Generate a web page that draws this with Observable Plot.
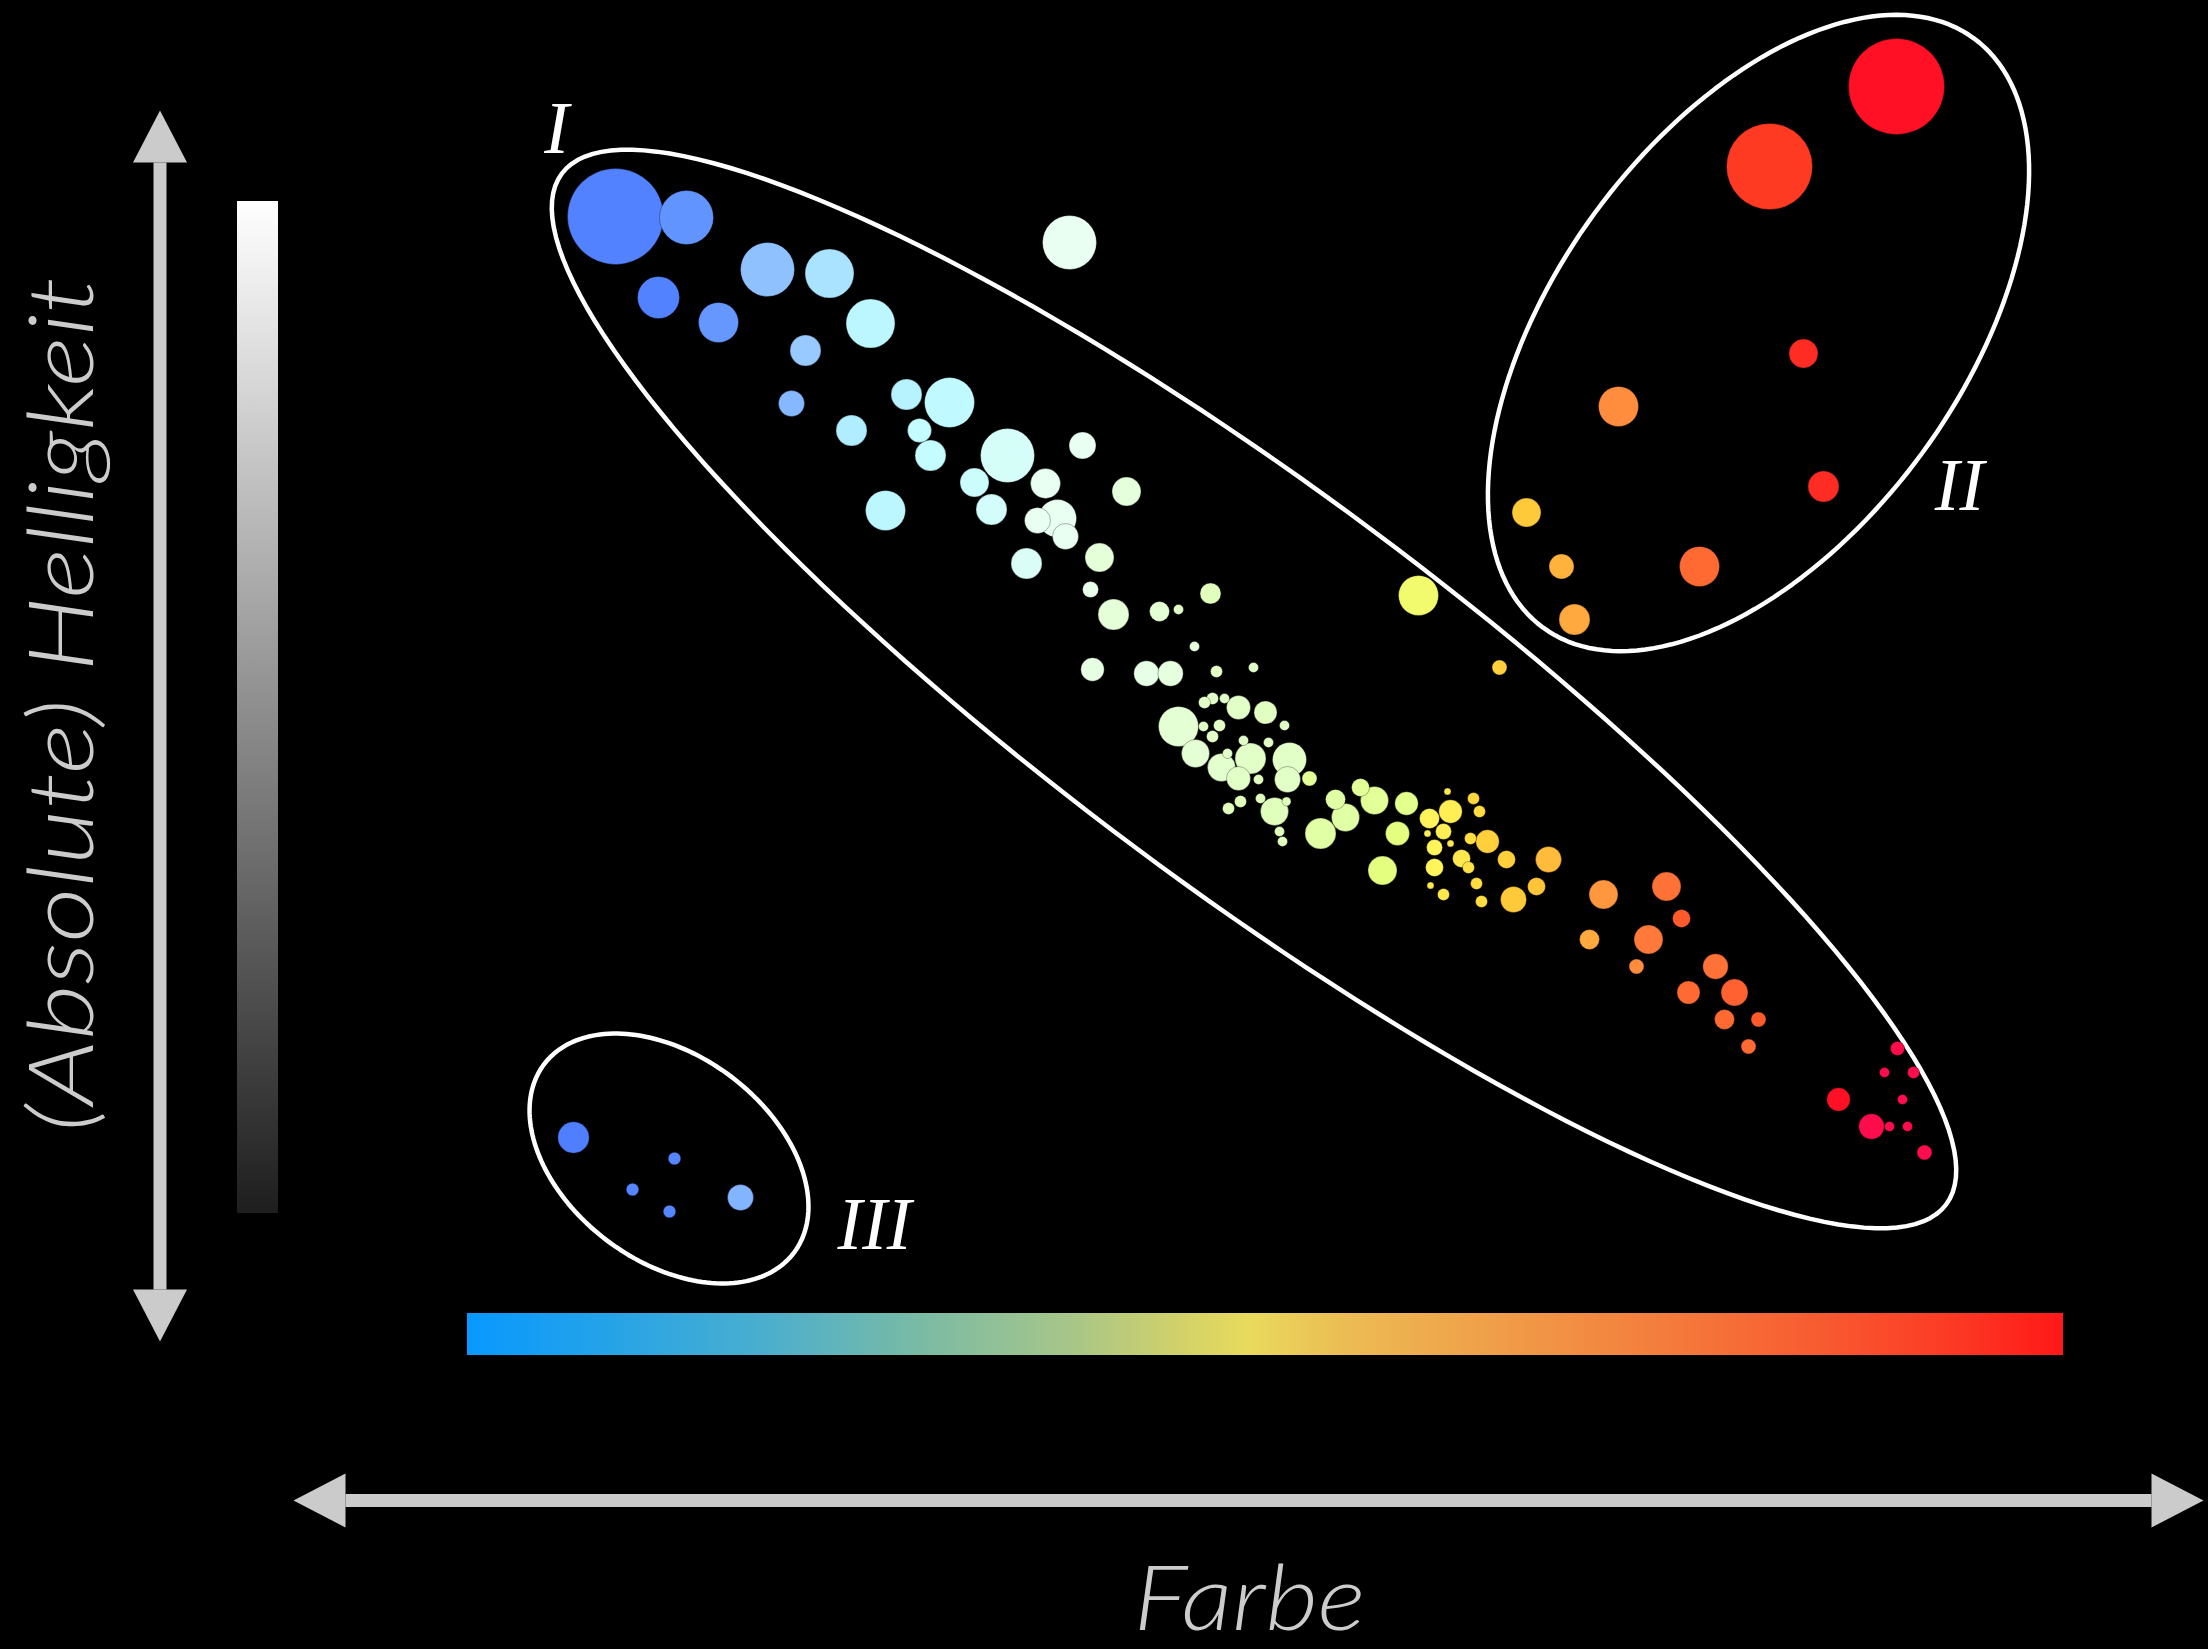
<!DOCTYPE html>
<html>
<head>
<meta charset="utf-8">
<script src="https://cdn.jsdelivr.net/npm/d3@7"></script>
<script src="https://cdn.jsdelivr.net/npm/@observablehq/plot@0.6"></script>
<style>
  html, body { margin: 0; padding: 0; background: #000; }
  #chart { width: 2208px; height: 1649px; }
</style>
</head>
<body>
<div id="chart"></div>
<script>
// ---------- Daten ----------
// Werte: [Farbe (Index), Helligkeit (Index), Sternradius, Temperaturindex]
const hauptreihe = [
  [14.8, 99.7, 48, 2], [21.9, 99.6, 27, 7], [19.1, 91.6, 21, 2], [25.1, 89.1, 20, 8],
  [30.0, 94.4, 27, 18], [36.2, 94.0, 24.5, 27], [40.3, 89.0, 24.5, 36], [33.8, 86.3, 15.5, 20],
  [32.4, 81.0, 13, 16], [38.4, 78.3, 15.5, 30], [43.9, 81.9, 15.5, 33], [48.2, 81.1, 25, 38],
  [45.2, 78.3, 12, 40], [46.3, 75.8, 15.5, 40], [54.0, 75.8, 27, 45], [50.7, 73.1, 14.5, 42],
  [52.4, 70.4, 15.5, 44], [57.8, 73.0, 15, 50], [61.5, 76.8, 13.5, 50], [65.9, 72.2, 14.5, 56],
  [60.2, 97.1, 27, 50], [57.0, 69.3, 13, 50], [59.0, 69.5, 19, 50], [59.8, 67.7, 13, 50],
  [41.8, 70.3, 20, 36], [55.9, 65.0, 15.5, 46], [63.2, 65.6, 14.5, 57], [62.3, 62.4, 8, 52],
  [64.6, 59.9, 15.5, 57], [69.2, 60.2, 10, 58], [71.1, 60.4, 5, 60], [74.3, 62.0, 10.5, 62],
  [95.1, 61.8, 20, 70], [72.7, 56.7, 5, 55], [62.5, 54.4, 11.7, 54], [67.9, 54.0, 12.7, 53],
  [70.3, 54.0, 12.7, 55], [74.9, 54.2, 6, 60], [78.6, 54.6, 5, 60], [74.5, 51.5, 6, 60],
  [73.7, 51.1, 6, 60], [75.7, 51.5, 5, 60], [77.1, 50.6, 12, 60], [79.8, 50.1, 11.5, 61],
  [71.1, 48.7, 20, 58], [73.6, 48.7, 5, 60], [75.2, 48.8, 6, 60], [74.5, 47.7, 6, 60],
  [77.6, 47.3, 5, 60], [80.1, 47.1, 5, 60], [81.7, 48.8, 5, 60], [72.8, 46.0, 14, 58],
  [78.3, 45.5, 15.5, 60], [82.2, 45.4, 17, 60], [75.4, 44.6, 14, 59], [77.1, 43.5, 12, 60],
  [76.0, 46.0, 5, 60], [79.1, 43.4, 5, 61], [82.0, 43.4, 13, 60], [84.2, 43.5, 7.5, 66],
  [77.3, 41.2, 6, 62], [76.1, 40.5, 6, 62], [79.3, 41.5, 5, 62], [80.7, 40.2, 14, 62],
  [81.9, 41.2, 4.5, 62], [81.2, 38.2, 5, 62], [81.5, 37.2, 5, 62], [89.3, 42.6, 9, 66],
  [86.8, 41.4, 10, 65], [90.7, 41.3, 14, 66], [87.8, 39.6, 14, 65], [93.9, 41.0, 11.7, 67],
  [85.3, 38.0, 15.5, 65], [93.0, 38.0, 12, 68], [91.5, 34.3, 14.5, 68], [96.2, 39.5, 10, 72],
  [98.3, 40.2, 11.7, 73], [98.0, 42.2, 3.5, 74], [97.6, 38.2, 8, 73], [96.0, 38.0, 3.5, 73],
  [96.7, 36.6, 8, 72], [98.3, 37.0, 3.5, 74], [96.7, 34.6, 9, 72], [96.3, 32.8, 3.5, 74],
  [97.6, 31.9, 6, 74], [99.4, 35.5, 9, 74], [100.1, 34.6, 6, 75], [100.6, 41.5, 6, 77],
  [101.2, 40.2, 6, 76], [100.3, 37.5, 6, 76], [102.0, 37.2, 11.7, 78], [100.9, 33.0, 6, 76],
  [101.4, 31.2, 6, 76], [103.9, 35.4, 9, 78], [104.6, 31.4, 13, 79], [106.9, 32.7, 9, 80],
  [108.1, 35.4, 13, 81], [103.2, 54.6, 7.5, 78], [113.6, 31.9, 14.5, 85], [119.9, 32.7, 14.5, 89],
  [121.4, 29.5, 9, 92], [112.2, 27.4, 10, 83], [118.1, 27.4, 14.5, 88], [116.9, 24.7, 7.5, 86],
  [124.8, 24.7, 12.7, 89], [122.1, 22.1, 11.5, 90], [126.7, 22.1, 13.5, 91], [125.7, 19.4, 10, 90],
  [129.1, 19.4, 7.5, 92], [128.1, 16.7, 7.5, 90], [143.0, 16.5, 7, 100], [141.7, 14.1, 5, 100],
  [144.6, 14.1, 6, 100], [137.1, 11.4, 11.7, 98], [143.5, 11.4, 5, 100], [140.4, 8.7, 12.7, 100],
  [142.2, 8.7, 5, 100], [144.0, 8.7, 5, 100], [145.7, 6.1, 7.5, 100]
];
const riesen = [
  [142.9, 112.7, 48, 98], [130.2, 104.7, 43, 95], [133.6, 86.0, 14.5, 96],
  [115.1, 80.7, 20, 86], [135.6, 72.7, 15.5, 96], [105.9, 70.1, 14.5, 79],
  [109.4, 64.7, 12.5, 82], [123.2, 64.7, 20, 90], [110.7, 59.4, 15.5, 83]
];
const weisseZwerge = [
  [10.6, 7.6, 15.7, 1], [20.7, 5.5, 6.3, 3], [16.5, 2.4, 6.3, 3],
  [20.2, 0.2, 6.3, 3], [27.3, 1.6, 13, 15]
];

// Gruppen (Ellipsen) : Mittelpunkt, Halbachsen, Drehwinkel (Grad)
const gruppenNamen = ["I", "II", "III"];
const gruppenMitteFarbe = [78.65, 129.1, 20.15];
const gruppenMitteHelligkeit = [52.45, 88.05, 5.5];
const gruppenHalbachseA = [86.3, 36.5, 15.65];
const gruppenHalbachseB = [19.8, 20.3, 10.28];
const gruppenWinkel = [-36.67, 53.85, -37.0];
const labelFarbe = [8.9, 149.2, 40.7];
const labelHelligkeit = [106.1, 70.4, -3.5];

// Skalen
const farbeDomain = [0, 159.6];
const helligkeitDomain = [0, 101.2];
const tempStops = [0, 10, 20, 30, 40, 50, 58, 64, 68, 72, 76, 80, 84, 88, 92, 95, 98, 100];
const tempFarben = ["#4c7bff", "#6c9eff", "#98caff", "#b0eeff", "#c4fcff", "#e8fff2", "#e4ffd4",
  "#e0ffb0", "#e4ff80", "#fff45a", "#ffdc40", "#ffc438", "#ffa040", "#ff7a3a", "#ff5a2c",
  "#ff3a22", "#ff1024", "#ff0c4c"];
const farbverlaufStops = [0, 0.08, 0.18, 0.28, 0.38, 0.45, 0.49, 0.55, 0.65, 0.75, 0.85, 0.93, 1];
const farbverlaufFarben = ["#0898ff", "#22a2ea", "#48aed0", "#78baa6", "#a8c688", "#d4d268",
  "#e8da5c", "#ecbc54", "#f09c48", "#f47c3c", "#f85a30", "#fc3a24", "#ff1818"];

const xTitel = "Farbe";
const yTitel = "(Absolute) Helligkeit";

// ---------- Tabellen ----------
const toRows = (arr, gruppe) => arr.map(([farbe, helligkeit, radius, temperatur]) =>
  ({farbe, helligkeit, radius, temperatur, gruppe}));
const sterne = [...toRows(hauptreihe, "I"), ...toRows(riesen, "II"), ...toRows(weisseZwerge, "III")];

const ellipsenPunkte = gruppenNamen.flatMap((g, i) => d3.range(0, 361, 2).map(deg => {
  const t = deg * Math.PI / 180, w = gruppenWinkel[i] * Math.PI / 180;
  const u = gruppenHalbachseA[i] * Math.cos(t), v = gruppenHalbachseB[i] * Math.sin(t);
  return {gruppe: g,
    farbe: gruppenMitteFarbe[i] + u * Math.cos(w) - v * Math.sin(w),
    helligkeit: gruppenMitteHelligkeit[i] + u * Math.sin(w) + v * Math.cos(w)};
}));
const labels = gruppenNamen.map((g, i) => ({g, farbe: labelFarbe[i], helligkeit: labelHelligkeit[i]}));

// Pfeilspitzen als eigene Symbole
const L = 52, H = 27;
const spitzeOben = {draw(c) { c.moveTo(0, -L); c.lineTo(H, 0); c.lineTo(-H, 0); c.closePath(); }};
const spitzeUnten = {draw(c) { c.moveTo(0, L); c.lineTo(H, 0); c.lineTo(-H, 0); c.closePath(); }};
const spitzeLinks = {draw(c) { c.moveTo(-L, 0); c.lineTo(0, H); c.lineTo(0, -H); c.closePath(); }};
const spitzeRechts = {draw(c) { c.moveTo(L, 0); c.lineTo(0, H); c.lineTo(0, -H); c.closePath(); }};

const pfeilFarbe = "#cbcbcb";
const yPfeil = {x: -30.75, von: -7.6, bis: 105.1};
const xPfeil = {y: -28.7, von: -12.2, bis: 168.4};

const chart = Plot.plot({
  width: 2208,
  height: 1649,
  margin: 0,
  style: {background: "#000", color: "#fff"},
  x: {domain: farbeDomain, range: [467, 2063], axis: null},
  y: {domain: helligkeitDomain, range: [1213, 201], axis: null},
  r: {type: "linear", domain: [0, 50], range: [0, 50]},
  color: {type: "linear", domain: tempStops, range: tempFarben},
  marks: [
    // Helligkeitsbalken und Farbbalken
    Plot.rect([0], {x1: -23, x2: -18.9, y1: helligkeitDomain[0], y2: helligkeitDomain[1], fill: "url(#helligkeitsverlauf)"}),
    Plot.rect([0], {x1: farbeDomain[0], x2: farbeDomain[1], y1: -10, y2: -14.2, fill: "url(#farbverlauf)"}),
    // Pfeile
    Plot.link([0], {x1: yPfeil.x, x2: yPfeil.x, y1: yPfeil.von, y2: yPfeil.bis, stroke: pfeilFarbe, strokeWidth: 13}),
    Plot.link([0], {x1: xPfeil.von, x2: xPfeil.bis, y1: xPfeil.y, y2: xPfeil.y, stroke: pfeilFarbe, strokeWidth: 13}),
    Plot.dot([0], {x: yPfeil.x, y: yPfeil.bis, symbol: spitzeOben, fill: pfeilFarbe, r: 10}),
    Plot.dot([0], {x: yPfeil.x, y: yPfeil.von, symbol: spitzeUnten, fill: pfeilFarbe, r: 10}),
    Plot.dot([0], {x: xPfeil.von, y: xPfeil.y, symbol: spitzeLinks, fill: pfeilFarbe, r: 10}),
    Plot.dot([0], {x: xPfeil.bis, y: xPfeil.y, symbol: spitzeRechts, fill: pfeilFarbe, r: 10}),
    // Ellipsen
    Plot.line(ellipsenPunkte, {x: "farbe", y: "helligkeit", z: "gruppe", stroke: "#fff", strokeWidth: 4.5, fill: "none"}),
    // Sterne
    Plot.dot(sterne, {x: "farbe", y: "helligkeit", r: "radius", fill: "temperatur",
      stroke: "#000", strokeOpacity: 0.3, strokeWidth: 1}),
    // Gruppenbeschriftungen
    Plot.text(labels, {x: "farbe", y: "helligkeit", text: "g", fill: "#fff", fontSize: 74,
      fontFamily: "Liberation Serif", fontStyle: "italic", textAnchor: "middle", lineAnchor: "bottom"}),
    // Achsentitel
    Plot.text([xTitel], {x: 78.2, y: -41.6, text: d => d, fill: "#cccccc", fontSize: 90,
      fontFamily: "Lato", fontStyle: "italic", fontWeight: 300, textAnchor: "middle", lineAnchor: "bottom"}),
    Plot.text([yTitel], {x: -40.3, y: 50.9, text: d => d, fill: "#cccccc", fontSize: 90, rotate: -90,
      fontFamily: "Lato", fontStyle: "italic", fontWeight: 300, textAnchor: "middle", lineAnchor: "middle"})
  ]
});

// Verläufe
const defs = d3.select(chart).insert("defs", ":first-child");
const fg = defs.append("linearGradient").attr("id", "farbverlauf")
  .attr("x1", 0).attr("x2", 1).attr("y1", 0).attr("y2", 0);
farbverlaufStops.forEach((o, i) => fg.append("stop").attr("offset", o).attr("stop-color", farbverlaufFarben[i]));
const hg = defs.append("linearGradient").attr("id", "helligkeitsverlauf")
  .attr("x1", 0).attr("x2", 0).attr("y1", 0).attr("y2", 1);
hg.append("stop").attr("offset", 0).attr("stop-color", "#ffffff");
hg.append("stop").attr("offset", 1).attr("stop-color", "#1e1e1e");

// Titel auf die Länge des Originals bringen
const titelLaenge = new Map([[yTitel, 855], [xTitel, 232]]);
d3.select(chart).selectAll("text").filter(function() { return titelLaenge.has(this.textContent); })
  .attr("textLength", function() { return titelLaenge.get(this.textContent); })
  .attr("lengthAdjust", "spacingAndGlyphs");

document.getElementById("chart").appendChild(chart);
</script>
</body>
</html>
